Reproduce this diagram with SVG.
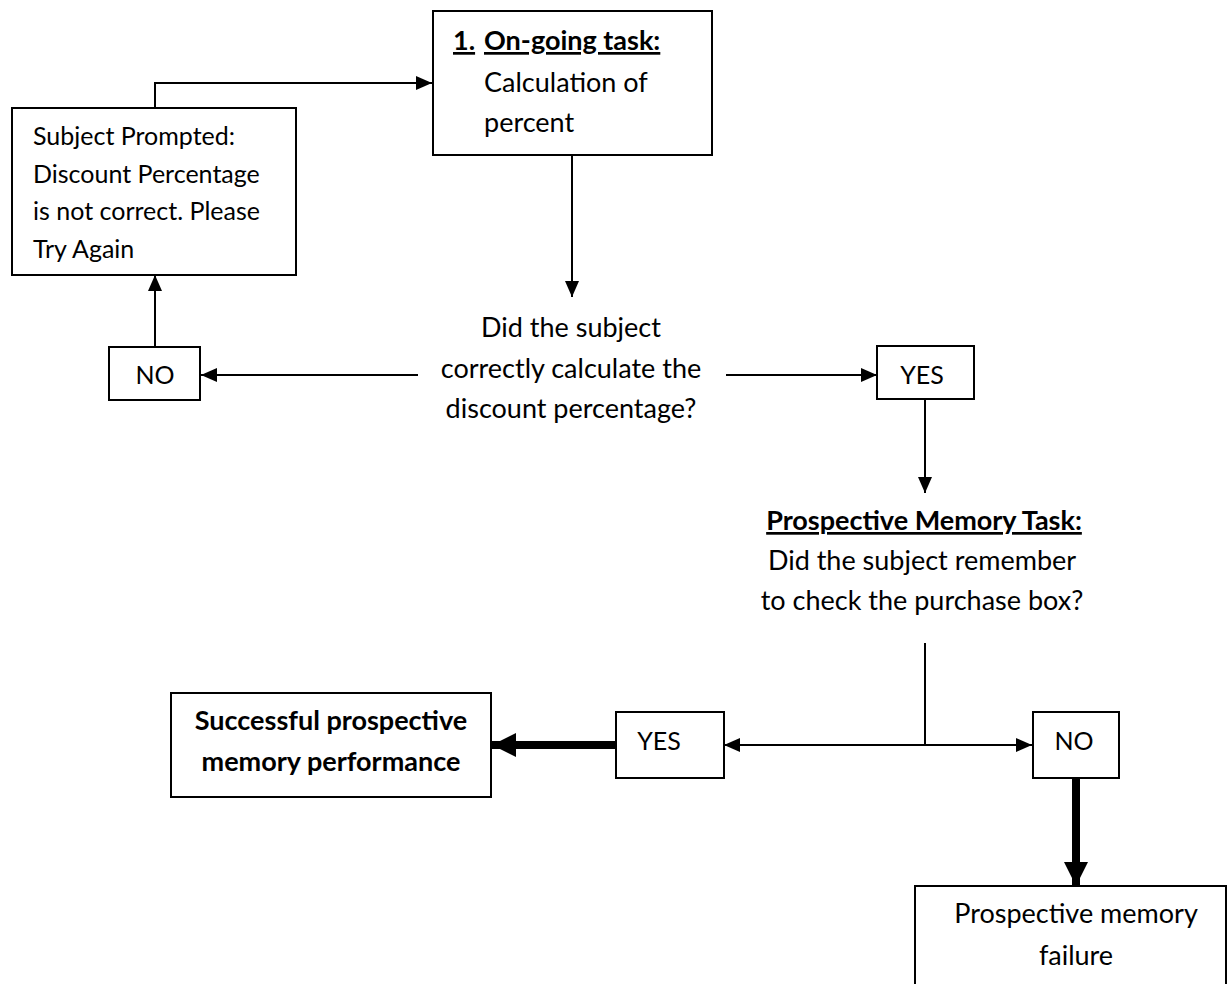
<svg xmlns="http://www.w3.org/2000/svg" width="1228" height="984" viewBox="0 0 1228 984">
<style>
  .box { fill: #ffffff; stroke: #000000; stroke-width: 2; }
  .t { font-family: Lato, "Liberation Sans", sans-serif; font-size: 27px; fill: #000000; }
  .ts { font-family: Lato, "Liberation Sans", sans-serif; font-size: 25px; fill: #000000; }
  .b { font-weight: bold; }
  .u { text-decoration: underline; }
  .c { text-anchor: middle; }
  .ln { fill: none; stroke: #000000; stroke-width: 2; }
  .thick { fill: none; stroke: #000000; stroke-width: 8; }
</style>
<defs>
  <marker id="ah" markerUnits="userSpaceOnUse" markerWidth="16" markerHeight="14" refX="16" refY="7" orient="auto">
    <path d="M0,0 L16,7 L0,14 z" fill="#000000"/>
  </marker>
  <marker id="ahb" markerUnits="userSpaceOnUse" markerWidth="24" markerHeight="24" refX="24" refY="12" orient="auto">
    <path d="M0,0 L24,12 L0,24 z" fill="#000000"/>
  </marker>
</defs>
<rect width="1228" height="984" fill="#ffffff"/>

<g id="connectors">
  <path class="ln" d="M155,108 V83 H432" marker-end="url(#ah)"/>
  <path class="ln" d="M572,155 V297" marker-end="url(#ah)"/>
  <path class="ln" d="M418,375 H201" marker-end="url(#ah)"/>
  <path class="ln" d="M155,347 V275" marker-end="url(#ah)"/>
  <path class="ln" d="M726,375 H877" marker-end="url(#ah)"/>
  <path class="ln" d="M925,399 V493" marker-end="url(#ah)"/>
  <path class="ln" d="M925,643 V745"/>
  <path class="ln" d="M925,745 H724" marker-end="url(#ah)"/>
  <path class="ln" d="M925,745 H1032" marker-end="url(#ah)"/>
  <path class="thick" d="M616,745 H492" marker-end="url(#ahb)"/>
  <path class="thick" d="M1076,778 V886" marker-end="url(#ahb)"/>
</g>

<g id="node-ongoing">
  <rect class="box" x="433" y="11" width="279" height="144"/>
  <text class="t b u" x="453" y="50">1.</text>
  <text class="t b u" x="484" y="50">On-going task:</text>
  <text class="t" x="484" y="92">Calculation of</text>
  <text class="t" x="484" y="132">percent</text>
</g>

<g id="node-prompted">
  <rect class="box" x="12" y="108" width="284" height="167"/>
  <text class="ts" x="33" y="145">Subject Prompted:</text>
  <text class="ts" x="33" y="183">Discount Percentage</text>
  <text class="ts" x="33" y="220">is not correct. Please</text>
  <text class="ts" x="33" y="258">Try Again</text>
</g>

<g id="node-no1">
  <rect class="box" x="109" y="347" width="91" height="53"/>
  <text class="ts c" x="155" y="384">NO</text>
</g>

<g id="node-decision1">
  <text class="t c" x="571" y="337">Did the subject</text>
  <text class="t c" x="571" y="378">correctly calculate the</text>
  <text class="t c" x="571" y="418">discount percentage?</text>
</g>

<g id="node-yes1">
  <rect class="box" x="877" y="346" width="97" height="53"/>
  <text class="ts c" x="922" y="384">YES</text>
</g>

<g id="node-pmtask">
  <text class="t c b u" x="924" y="530">Prospective Memory Task:</text>
  <text class="t c" x="922" y="570">Did the subject remember</text>
  <text class="t c" x="922" y="610">to check the purchase box?</text>
</g>

<g id="node-success">
  <rect class="box" x="171" y="693" width="320" height="104"/>
  <text class="t c b" x="331" y="730">Successful prospective</text>
  <text class="t c b" x="331" y="771">memory performance</text>
</g>

<g id="node-yes2">
  <rect class="box" x="616" y="712" width="108" height="66"/>
  <text class="ts c" x="659" y="750">YES</text>
</g>

<g id="node-no2">
  <rect class="box" x="1033" y="712" width="86" height="66"/>
  <text class="ts c" x="1074" y="750">NO</text>
</g>

<g id="node-failure">
  <rect class="box" x="915" y="886" width="311" height="120"/>
  <text class="t c" x="1076" y="923">Prospective memory</text>
  <text class="t c" x="1076" y="965">failure</text>
</g>
</svg>
